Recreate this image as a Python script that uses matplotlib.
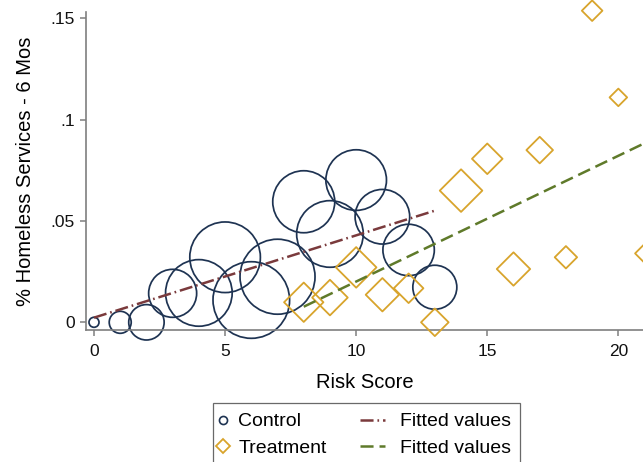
import numpy as np
import matplotlib
matplotlib.use("Agg")
import matplotlib.pyplot as plt
from matplotlib.lines import Line2D
from matplotlib.legend_handler import HandlerLine2D

# ---------------- data ----------------
ctrl_x = [0, 1, 2, 3, 4, 5, 6, 7, 8, 9, 10, 11, 12, 13]
ctrl_y = [0.0, 0.0, 0.0, 0.0143, 0.0145, 0.0321, 0.0110, 0.0225,
          0.0595, 0.0436, 0.0702, 0.0521, 0.0357, 0.0173]
ctrl_w = [5, 11, 17.7, 24, 33.3, 35.3, 38.3, 37.5, 31, 33.3, 30.3, 27.3, 25.7, 22]

treat_x = [8, 9, 10, 11, 12, 13, 14, 15, 16, 17, 18, 19, 20, 21]
treat_y = [0.0099, 0.0122, 0.0271, 0.0136, 0.0168, 0.0, 0.0650, 0.0807,
           0.0263, 0.0850, 0.0321, 0.1538, 0.1110, 0.0340]
treat_w = [19.7, 17.8, 20.3, 16.7, 14.8, 13.8, 21.3, 15.3, 16.7, 13.3, 11.2, 10.3, 8.8, 9.5]

fit_ctrl_x = [0, 13]
fit_ctrl_y = [0.0023, 0.0551]
fit_treat_x = [8, 21]
fit_treat_y = [0.0077, 0.0884]

xticks = [0, 5, 10, 15, 20]
xtick_labels = ["0", "5", "10", "15", "20"]
yticks = [0, 0.05, 0.10, 0.15]
ytick_labels = ["0", ".05", ".1", ".15"]

x_label = "Risk Score"
y_label = "% Homeless Services - 6 Mos"
legend_labels = ["Control", "Treatment", "Fitted values", "Fitted values"]

# ---------------- style ----------------
navy = "#1e3352"
gold = "#d8a42c"
maroon = "#7a3a3c"
olive = "#5f7a2a"
axis_gray = "#7f7f7f"

plt.rcParams["font.family"] = ["Liberation Sans", "DejaVu Sans"]
plt.rcParams["lines.scale_dashes"] = False

fig = plt.figure(figsize=(6.43, 4.62), dpi=100)
ax = fig.add_axes([86 / 643, 1 - 330 / 462, 1 - 86 / 643, (330 - 11.7) / 462])

# marker radius px -> scatter area (pt^2)
s_ctrl = (1.44 * np.asarray(ctrl_w)) ** 2
s_treat = (1.018 * np.asarray(treat_w)) ** 2

ax.scatter(ctrl_x, ctrl_y, s=s_ctrl, marker="o", facecolors="none",
           edgecolors=navy, linewidths=1.25, clip_on=False, zorder=2)
ax.scatter(treat_x, treat_y, s=s_treat, marker="D", facecolors="none",
           edgecolors=gold, linewidths=1.3, clip_on=False, zorder=3)

ax.plot(fit_ctrl_x, fit_ctrl_y, color=maroon, lw=1.8,
        dashes=(9.4, 2.8, 1.2, 2.8), zorder=4, solid_capstyle="butt")
ax.plot(fit_treat_x, fit_treat_y, color=olive, lw=1.8,
        dashes=(9.4, 4.3), zorder=4)

ax.set_xlim(-0.305, 20.94)
ax.set_ylim(-0.0038, 0.1533)

ax.set_xticks(xticks)
ax.set_xticklabels(xtick_labels)
ax.set_yticks(yticks)
ax.set_yticklabels(ytick_labels)

for side in ["top", "right"]:
    ax.spines[side].set_visible(False)
for side in ["left", "bottom"]:
    ax.spines[side].set_color(axis_gray)
    ax.spines[side].set_linewidth(1.2)

ax.tick_params(axis="both", direction="out", length=4, width=1.1,
               color=axis_gray, labelsize=12.5, labelcolor="#111111")
ax.tick_params(axis="x", pad=6)
ax.tick_params(axis="y", pad=4)

ax.set_xlabel(x_label, fontsize=14.5, labelpad=10)
ax.set_ylabel(y_label, fontsize=14.5, labelpad=11)


# ---------------- legend ----------------
class ShiftedMarker(HandlerLine2D):
    def __init__(self, shift, **kw):
        super().__init__(**kw)
        self.shift = shift

    def get_xdata(self, legend, xdescent, ydescent, width, height, fontsize):
        xm = -xdescent + width / 2 - self.shift
        xd = np.array([xm - 1, xm + 1])
        return xd, np.array([xm])


class WideLine(HandlerLine2D):
    def __init__(self, left, right, **kw):
        super().__init__(**kw)
        self.left = left
        self.right = right

    def get_xdata(self, legend, xdescent, ydescent, width, height, fontsize):
        xd = np.array([-xdescent - self.left, -xdescent + width - self.right])
        return xd, xd


h1 = Line2D([], [], ls="none", marker="o", ms=5.8, mfc="none", mec=navy, mew=1.2)
h2 = Line2D([], [], ls="none", marker="D", ms=6.8, mfc="none", mec=gold, mew=1.3)
h3 = Line2D([], [], color=maroon, lw=1.8, dashes=(9.4, 2.8, 1.2, 2.8))
h4 = Line2D([], [], color=olive, lw=1.8, dashes=(9.4, 4.3))

sm = ShiftedMarker(2.6)
wl = WideLine(17.6, 5.2)
leg = fig.legend([h1, h2, h3, h4], legend_labels, ncol=2,
                 loc="upper left", bbox_to_anchor=(213 / 643, 1 - 403 / 462),
                 bbox_transform=fig.transFigure, borderaxespad=0,
                 fontsize=14, frameon=True, fancybox=False,
                 handlelength=0.4, handletextpad=0.4, columnspacing=2.95,
                 borderpad=0.5, labelspacing=0.45,
                 handler_map={h1: sm, h2: sm, h3: wl, h4: wl})
leg.get_frame().set_edgecolor("#444444")
leg.get_frame().set_linewidth(0.9)

fig.savefig("out.png", dpi=100)
